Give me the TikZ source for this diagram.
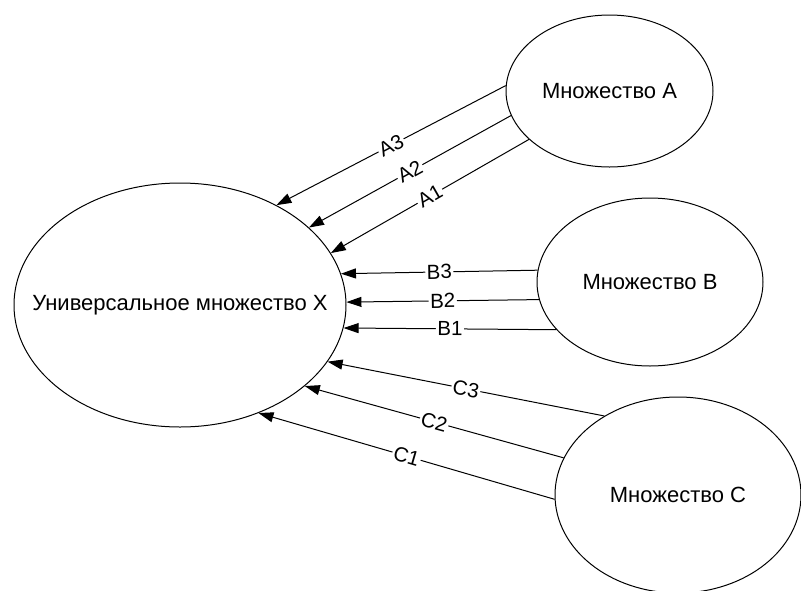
\documentclass[tikz,border=0pt]{standalone}
\usepackage{fontspec}
\setmainfont{Liberation Sans}
\usetikzlibrary{shapes.geometric,arrows.meta}
\begin{document}
\begin{tikzpicture}[x=1pt,y=-1pt,
  setnode/.style={ellipse,draw,line width=1pt,inner sep=0pt,
    font=\fontsize{22}{26}\selectfont},
  link/.style={line width=1pt,-{Triangle[length=15pt,width=10pt]}},
  tag/.style={fill=white,inner sep=1.5pt,sloped,
    font=\fontsize{20.5}{24}\selectfont}]
\useasboundingbox (0,0) rectangle (801,590);

% sets (labels in zero-width boxes so the ellipse keeps its given size)
\node[setnode,minimum width=332pt,minimum height=244pt] (X) at (180,305) {\makebox[0pt]{Универсальное множество X}};
\node[setnode,minimum width=207pt,minimum height=152pt] (A) at (609.5,91) {\makebox[0pt]{Множество A}};
\node[setnode,minimum width=226pt,minimum height=168pt] (B) at (650,282) {\makebox[0pt]{Множество B}};
\node[setnode,minimum width=246pt,minimum height=196pt] (C) at (678,495) {\makebox[0pt]{Множество C}};

% mappings from A
\draw[link] (A.177.3) -- node[tag]{A3} (X.46.2);
\draw[link] (A.194.1) -- node[tag]{A2} (X.31.7);
\draw[link] (A.211.5) -- node[tag]{A1} (X.19.2);

% mappings from B
\draw[link] (B.174.9) -- node[tag]{B3} (X.11.5);
\draw[link] (B.189.8) -- node[tag]{B2} (X.1.2);
\draw[link] (B.207.3) -- node[tag]{B1} (X.-8.6);

% mappings from C
\draw[link] (C.133.9) -- node[tag]{C3} (X.-21.1);
\draw[link] (C.162.2) -- node[tag]{C2} (X.-33.7);
\draw[link] (C.182.3) -- node[tag]{C1} (X.-54.9);
\end{tikzpicture}
\end{document}
